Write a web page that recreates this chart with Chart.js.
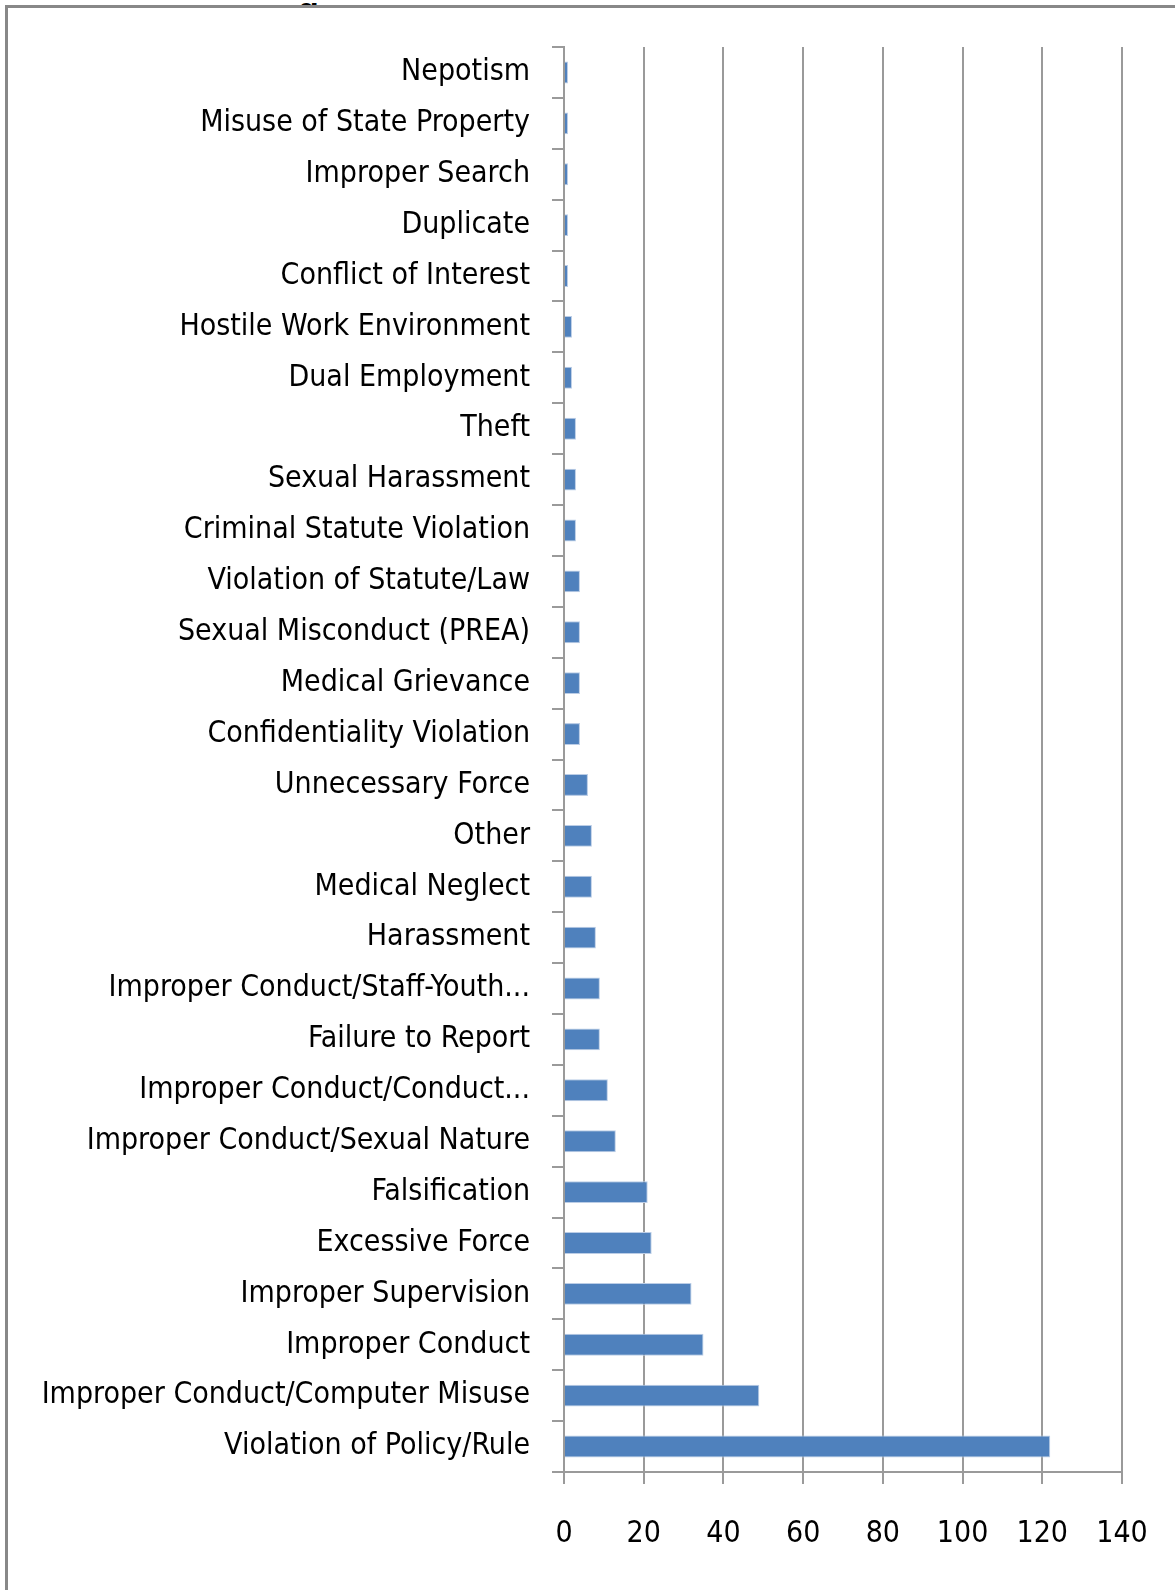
<!DOCTYPE html>
<html>
<head>
<meta charset="utf-8">
<script src="https://cdn.jsdelivr.net/npm/chart.js@4.4.1/dist/chart.umd.min.js"></script>
<style>
  html, body { margin: 0; padding: 0; background: #fff; }
  #wrap { position: relative; width: 1175px; height: 1590px; overflow: hidden; }
  #frame {
    position: absolute; left: 5px; top: 5px; right: -10px; bottom: -10px;
    border-top: 3px solid #888; border-left: 3px solid #888;
  }
  #cut {
    position: absolute; left: 298px; top: 0; width: 30px; height: 5px; overflow: hidden;
  }
  #cut span {
    position: absolute; left: 0; bottom: 0; line-height: 1;
    font: bold 34px "Liberation Sans", Arial, sans-serif; transform: translateY(24px);
  }
  #box { position: absolute; left: 0; top: 0; width: 1175px; height: 1590px; }
</style>
</head>
<body>
<div id="wrap">
  <div id="frame"></div>
  <div id="cut"><span>g</span></div>
  <div id="box"><canvas id="complaintsChart"></canvas></div>
</div>
<script>
// categories, top to bottom
const categorias = [
    'Nepotism',
    'Misuse of State Property',
    'Improper Search',
    'Duplicate',
    'Conflict of Interest',
    'Hostile Work Environment',
    'Dual Employment',
    'Theft',
    'Sexual Harassment',
    'Criminal Statute Violation',
    'Violation of Statute/Law',
    'Sexual Misconduct (PREA)',
    'Medical Grievance',
    'Confidentiality Violation',
    'Unnecessary Force',
    'Other',
    'Medical Neglect',
    'Harassment',
    'Improper Conduct/Staff-Youth...',
    'Failure to Report',
    'Improper Conduct/Conduct...',
    'Improper Conduct/Sexual Nature',
    'Falsification',
    'Excessive Force',
    'Improper Supervision',
    'Improper Conduct',
    'Improper Conduct/Computer Misuse',
    'Violation of Policy/Rule'
];

const valores = [1, 1, 1, 1, 1, 2, 2, 3, 3, 3, 4, 4, 4, 4, 6, 7, 7, 8, 9, 9, 11, 13, 21, 22, 32, 35, 49, 122];

const eixoX = { min: 0, max: 140, passo: 20 };

document.addEventListener('DOMContentLoaded', function() {
    const canvas = document.getElementById('complaintsChart');
    const ctx = canvas.getContext('2d');
    const fonte = '"DejaVu Sans Condensed", "Liberation Sans Narrow", sans-serif';
    const cinza = '#9a9a9a';

    new Chart(ctx, {
        type: 'bar',
        data: {
            labels: categorias,
            datasets: [{
                label: 'Complaints',
                data: valores,
                backgroundColor: '#4F81BD',
                borderColor: '#BBCDE6',
                borderWidth: 1,
                barPercentage: 0.43,
                categoryPercentage: 1.0
            }]
        },
        options: {
            indexAxis: 'y',
            responsive: true,
            maintainAspectRatio: false,
            animation: false,
            layout: { padding: { top: 47, right: 53, left: 0, bottom: 0 } },
            plugins: { legend: { display: false }, tooltip: { enabled: false } },
            scales: {
                y: {
                    type: 'category',
                    grid: {
                        offset: true,
                        drawOnChartArea: false,
                        drawTicks: true,
                        tickLength: 12,
                        color: cinza,
                        lineWidth: 2
                    },
                    border: { display: true, color: cinza, width: 2 },
                    ticks: {
                        color: '#000',
                        padding: 22,
                        autoSkip: false,
                        font: { family: fonte, size: 30 }
                    },
                    afterFit: function(scale) {
                        scale.width = 564;
                        scale.paddingTop = 0;
                        scale.paddingBottom = 0;
                    }
                },
                x: {
                    min: eixoX.min,
                    max: eixoX.max,
                    grid: {
                        color: cinza,
                        lineWidth: 2,
                        tickLength: 12
                    },
                    border: { display: true, color: cinza, width: 2 },
                    ticks: {
                        stepSize: eixoX.passo,
                        color: '#000',
                        padding: 32,
                        maxRotation: 0,
                        font: { family: fonte, size: 30 }
                    },
                    afterFit: function(scale) {
                        scale.height = 118;
                        scale.paddingLeft = 0;
                        scale.paddingRight = 0;
                    }
                }
            }
        }
    });
});
</script>
</body>
</html>
